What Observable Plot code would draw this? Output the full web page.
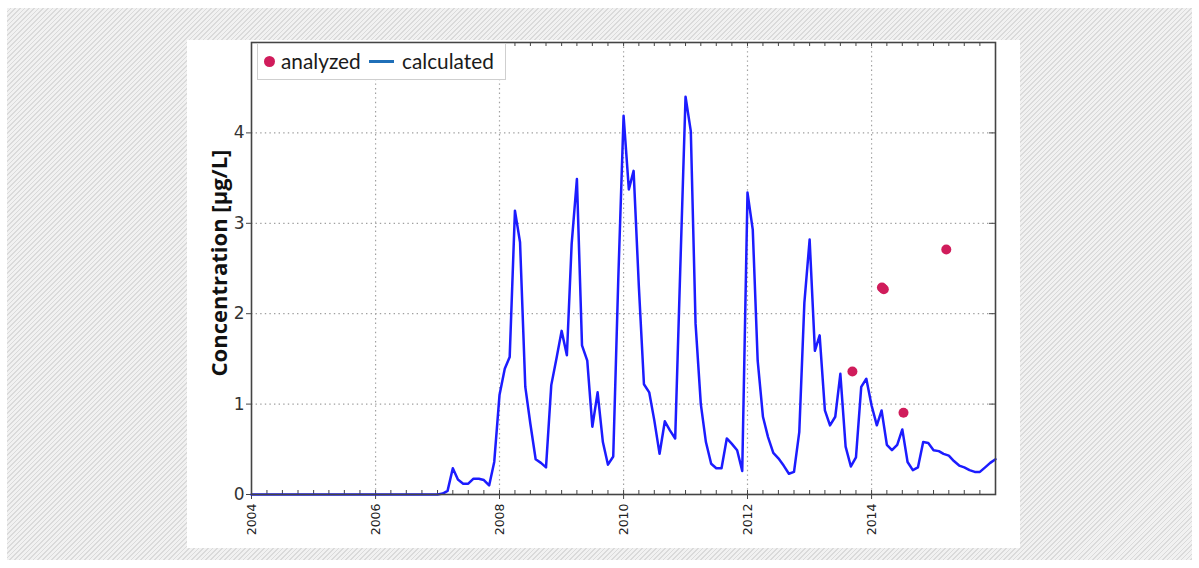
<!DOCTYPE html>
<html><head><meta charset="utf-8">
<script src="https://cdn.jsdelivr.net/npm/d3@7"></script>
<script src="https://cdn.jsdelivr.net/npm/@observablehq/plot@0.6"></script>
<style>
html,body{margin:0;padding:0;background:#fff;}
#bg{position:absolute;left:7px;top:8px;width:1185px;height:552px;
  background:repeating-linear-gradient(135deg,#f1f1f1 0px,#f1f1f1 2.3px,#dadada 2.3px,#dadada 3.3px);}
#panel{position:absolute;left:187px;top:40px;width:833px;height:508px;background:#fff;}
#chart{position:absolute;left:0;top:0;}
#ylabel{position:absolute;left:218px;top:263px;transform:translate(-50%,-50%) rotate(-90deg);
  font:bold 22px "Open Sans",sans-serif;white-space:nowrap;color:#111;}
#legend{position:absolute;left:257px;top:43px;width:247px;height:35px;border:1px solid #cfcfcf;background:#fff;
  font:20.8px Lato,sans-serif;color:#1a1a1a;}
#legend span{position:absolute;top:4px;line-height:26px;}
#legend .dot{position:absolute;left:6px;top:12px;width:11px;height:11px;border-radius:50%;background:#d01c5b;}
#legend .ln{position:absolute;left:111px;top:16px;width:25px;height:3px;background:#1f6fb8;}
</style>
</head><body>
<div id="bg"></div>
<div id="panel"></div>
<div id="chart"></div>
<div id="ylabel">Concentration [µg/L]</div>
<div id="legend"><div class="dot"></div><span style="left:23px">analyzed</span><div class="ln"></div><span style="left:144px">calculated</span></div>
<script>
// monthly calculated concentration, Jan 2004 .. Jan 2016
const calculated = [
  0,0,0,0,0,0,0,0,0,0,0,0,            // 2004
  0,0,0,0,0,0,0,0,0,0,0,0,            // 2005
  0,0,0,0,0,0,0,0,0,0,0,0,            // 2006
  0,0.01,0.04,0.29,0.165,0.12,0.12,0.175,0.175,0.16,0.10,0.36,   // 2007
  1.10,1.39,1.52,3.14,2.79,1.19,0.78,0.39,0.35,0.30,1.21,1.50,   // 2008
  1.81,1.54,2.77,3.49,1.65,1.48,0.75,1.13,0.58,0.33,0.42,2.4,    // 2009
  4.19,3.375,3.58,2.3,1.22,1.13,0.82,0.45,0.81,0.71,0.62,2.5,    // 2010
  4.40,4.02,1.89,1.0,0.58,0.34,0.29,0.29,0.62,0.56,0.49,0.26,    // 2011
  3.34,2.93,1.48,0.86,0.635,0.46,0.40,0.32,0.23,0.25,0.69,2.12,  // 2012
  2.82,1.59,1.76,0.93,0.765,0.86,1.335,0.53,0.31,0.41,1.19,1.28, // 2013
  0.985,0.765,0.93,0.55,0.49,0.55,0.72,0.36,0.27,0.30,0.58,0.57, // 2014
  0.49,0.48,0.45,0.43,0.37,0.32,0.30,0.27,0.25,0.25,0.30,0.35,   // 2015
  0.39                                                           // Jan 2016
];
const analyzedDates = ["2013-09-10","2014-03-03","2014-03-14","2014-07-08","2015-03-17"];
const analyzedValues = [1.36, 2.29, 2.27, 0.905, 2.71];
const xTickYears = [2004, 2006, 2008, 2010, 2012, 2014];
const gridYears = [2006, 2008, 2010, 2012, 2014];
const yTicks = [0, 1, 2, 3, 4];
const yGrid = [1, 2, 3, 4];

const calcData = calculated.map((v, i) => ({date: new Date(Date.UTC(2004, i, 1)), value: v}));
const anaData = analyzedDates.map((d, i) => ({date: new Date(d + "T00:00:00Z"), value: analyzedValues[i]}));
const yr = y => new Date(Date.UTC(y, 0, 1));
const x0 = yr(2004), x1 = yr(2016);
const quarters = d3.utcMonth.every(3).range(x0, new Date(Date.UTC(2016, 0, 2)));

const W = 1199, H = 568, ML = 251, MR = 204, MT = 42, MB = 74;
const innerW = W - ML - MR, innerH = H - MT - MB;
const tickColor = "#444";
const gridStyle = {stroke: "#a0a0a0", strokeOpacity: 1, strokeWidth: 1.2, strokeDasharray: "1.4,3.2"};

const chart = Plot.plot({
  width: W, height: H,
  marginLeft: ML, marginRight: MR, marginTop: MT, marginBottom: MB,
  style: {background: "transparent", overflow: "visible"},
  x: {type: "utc", domain: [x0, x1]},
  y: {domain: [0, 5]},
  marks: [
    Plot.gridX(gridYears.map(yr), gridStyle),
    Plot.gridY(yGrid, gridStyle),
    Plot.ruleX(quarters, {stroke: tickColor, strokeWidth: 1, insetTop: innerH - 4}),
    Plot.ruleX(quarters, {stroke: tickColor, strokeWidth: 1, insetBottom: innerH - 4}),
    Plot.ruleY(yGrid, {stroke: tickColor, strokeWidth: 1, insetLeft: innerW - 6}),
    Plot.axisX(xTickYears.map(yr), {anchor: "bottom", tickSize: 5, tickPadding: 4, tickRotate: -90,
      tickFormat: d => String(d.getUTCFullYear()), label: null, stroke: tickColor,
      fontSize: 12.5, fontFamily: "DejaVu Sans", fill: "#222"}),
    Plot.axisY(yTicks, {anchor: "left", tickSize: 5, tickPadding: 2, label: null, stroke: tickColor,
      tickFormat: d => String(d), fontSize: 17, fontFamily: "DejaVu Sans", fill: "#333"}),
    Plot.line(calcData, {x: "date", y: "value", stroke: "#1c1cff", strokeWidth: 2.5, curve: "linear"}),
    Plot.dot(anaData, {x: "date", y: "value", r: 5, fill: "#d01c5b", stroke: "none"}),
    Plot.frame({stroke: "#444", strokeWidth: 1.6})
  ]
});
document.getElementById("chart").appendChild(chart);
</script>
</body></html>
